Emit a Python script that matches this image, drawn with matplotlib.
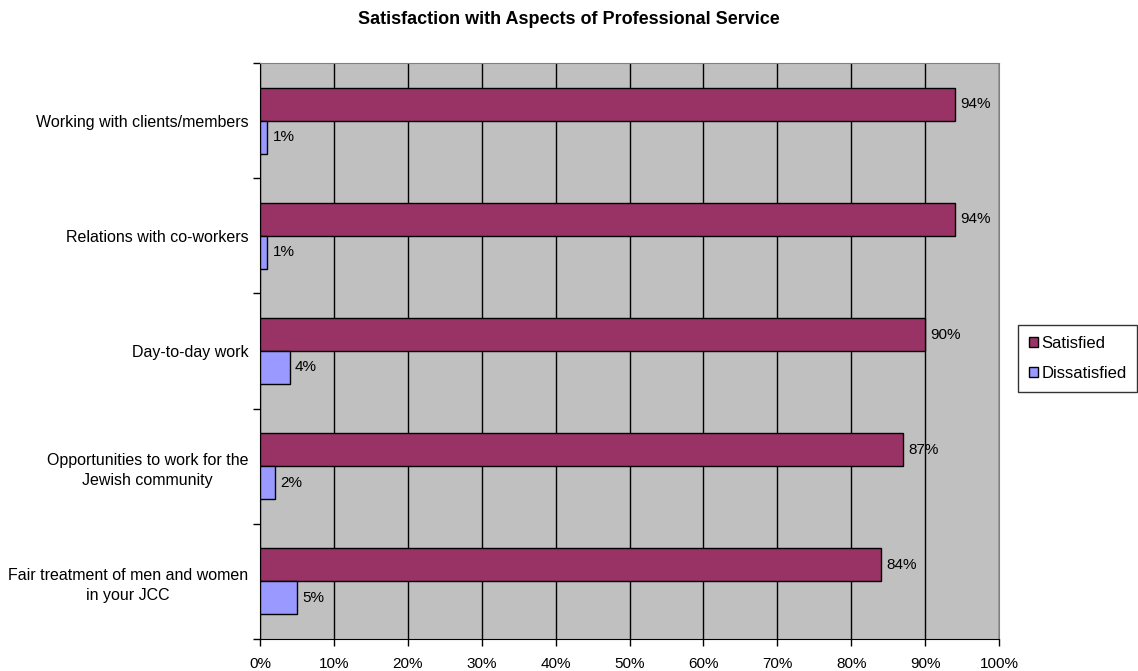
import matplotlib
matplotlib.use("Agg")
import matplotlib.pyplot as plt
import numpy as np
from matplotlib.patches import Patch

plt.rcParams["font.family"] = ["Liberation Sans", "DejaVu Sans"]

categories = [
    "Working with clients/members",
    "Relations with co-workers",
    "Day-to-day work",
    "Opportunities to work for the\nJewish community",
    "Fair treatment of men and women\nin your JCC",
]
satisfied = [94, 94, 90, 87, 84]
dissatisfied = [1, 1, 4, 2, 5]
x_ticks = list(range(0, 101, 10))

sat_color = "#993366"
dis_color = "#9999FF"
bg_color = "#C0C0C0"

fig = plt.figure(figsize=(11.38, 6.71), dpi=100)
ax = fig.add_axes([260 / 1138, 1 - 639 / 671, 739 / 1138, 576 / 671])
ax.set_facecolor(bg_color)

y = np.arange(len(categories))
h = 0.286
ax.barh(y - h / 2, satisfied, height=h, color=sat_color, edgecolor="black",
        linewidth=1, zorder=3)
ax.barh(y + h / 2, dissatisfied, height=h, color=dis_color, edgecolor="black",
        linewidth=1, zorder=3)

for yi, v in zip(y, satisfied):
    ax.annotate(f"{v}%", (v, yi - h / 2), xytext=(4, 0), textcoords="offset points",
                va="center", ha="left", fontsize=11)
for yi, v in zip(y, dissatisfied):
    ax.annotate(f"{v}%", (v, yi + h / 2), xytext=(4, 0), textcoords="offset points",
                va="center", ha="left", fontsize=11)

ax.set_xlim(0, 100)
ax.set_ylim(len(categories) - 0.5, -0.5)
ax.set_xticks(x_ticks)
ax.set_xticklabels([f"{t}%" for t in x_ticks], fontsize=11)
ax.xaxis.grid(True, color="black", linewidth=1, zorder=1)
ax.set_axisbelow(True)

# category labels sit between minor ticks drawn at the group boundaries
ax.set_yticks(y)
ax.set_yticklabels(categories, fontsize=11.5, ha="right", multialignment="center",
                   linespacing=1.45)
ax.tick_params(axis="y", which="major", length=0, pad=8.5)
ax.set_yticks(np.arange(-0.5, len(categories)), minor=True)
ax.tick_params(axis="y", which="minor", length=5, width=1)
ax.tick_params(axis="x", length=5, width=1, pad=8)

for side in ["top", "right"]:
    ax.spines[side].set_color("#808080")
for side in ["left", "bottom"]:
    ax.spines[side].set_color("black")

fig.text(0.5, 1 - 19 / 671, "Satisfaction with Aspects of Professional Service",
         ha="center", va="center", fontsize=13, fontweight="bold")

handles = [Patch(facecolor=sat_color, edgecolor="black", label="Satisfied"),
           Patch(facecolor=dis_color, edgecolor="black", label="Dissatisfied")]
leg = fig.legend(handles=handles, loc="upper left",
                 bbox_to_anchor=(1018 / 1138, 1 - 325 / 671), fontsize=12,
                 frameon=True, fancybox=False, edgecolor="black",
                 handlelength=0.55, handleheight=0.55, handletextpad=0.2,
                 borderpad=0.65, labelspacing=0.9, borderaxespad=0)
leg.get_frame().set_linewidth(1)

fig.savefig("out.png", dpi=100)
